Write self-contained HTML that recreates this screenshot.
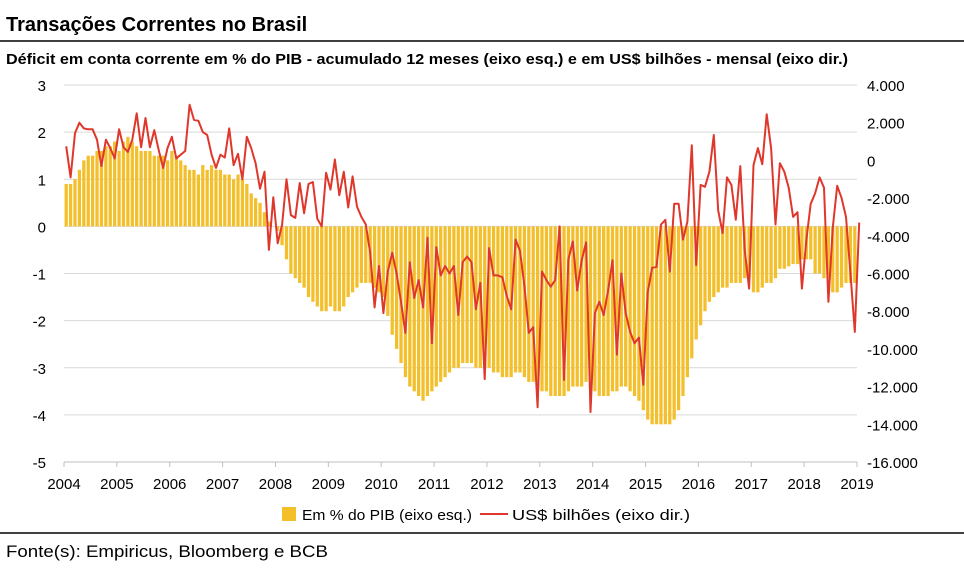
<!DOCTYPE html>
<html><head><meta charset="utf-8"><style>
body{margin:0;background:#fff;font-family:"Liberation Sans",sans-serif;}
#wrap{position:relative;width:964px;height:574px;overflow:hidden;}
</style></head><body>
<div id="wrap">
<svg id="svg" width="964" height="574">
<text x="6" y="31" font-size="20" font-weight="bold" fill="#000">Transações Correntes no Brasil</text>
<line x1="0" y1="41" x2="964" y2="41" stroke="#000" stroke-width="1.5"/>
<text x="6" y="64" font-size="14.5" font-weight="bold" fill="#000" textLength="842" lengthAdjust="spacingAndGlyphs">Déficit em conta corrente em % do PIB - acumulado 12 meses (eixo esq.) e em US$ bilhões - mensal (eixo dir.)</text>
<g id="grid"></g><g id="bars"></g><g id="axes"></g><g id="line"></g>
<rect x="282" y="507" width="14" height="14" fill="#F3BF2B"/>
<text x="302" y="520" font-size="15" fill="#000" textLength="170" lengthAdjust="spacingAndGlyphs">Em % do PIB (eixo esq.)</text>
<line x1="480" y1="514" x2="508" y2="514" stroke="#E0372C" stroke-width="2"/>
<text x="512" y="520" font-size="15" fill="#000" textLength="178" lengthAdjust="spacingAndGlyphs">US$ bilhões (eixo dir.)</text>
<line x1="0" y1="533" x2="964" y2="533" stroke="#000" stroke-width="1.5"/>
<text x="6" y="557" font-size="17" fill="#000" textLength="322" lengthAdjust="spacingAndGlyphs">Fonte(s): Empiricus, Bloomberg e BCB</text>
</svg></div>
<script>
const years=["2004","2005","2006","2007","2008","2009","2010","2011","2012","2013","2014","2015","2016","2017","2018","2019"];
const leftTicks=[3,2,1,0,-1,-2,-3,-4,-5];
const rightTicks=["4.000","2.000","0","-2.000","-4.000","-6.000","-8.000","-10.000","-12.000","-14.000","-16.000"];
const pib=[
0.9,0.9,1.0,1.2,1.4,1.5,1.5,1.6,1.6,1.7,1.7,1.8,
1.6,1.8,1.9,1.8,1.7,1.6,1.6,1.6,1.5,1.5,1.5,1.4,
1.6,1.5,1.4,1.3,1.2,1.2,1.1,1.3,1.2,1.3,1.2,1.2,
1.1,1.1,1.0,1.1,1.0,0.9,0.7,0.6,0.5,0.3,0.1,0.0,
-0.1,-0.4,-0.7,-1.0,-1.1,-1.2,-1.3,-1.5,-1.6,-1.7,-1.8,-1.8,
-1.7,-1.8,-1.8,-1.7,-1.5,-1.4,-1.3,-1.2,-1.2,-1.2,-1.3,-1.4,
-1.5,-1.9,-2.3,-2.6,-2.9,-3.2,-3.4,-3.5,-3.6,-3.7,-3.6,-3.5,
-3.4,-3.3,-3.2,-3.1,-3.0,-3.0,-2.9,-2.9,-2.9,-3.0,-3.0,-3.0,
-3.0,-3.1,-3.1,-3.2,-3.2,-3.2,-3.1,-3.1,-3.2,-3.3,-3.3,-3.4,
-3.5,-3.5,-3.6,-3.6,-3.6,-3.6,-3.5,-3.4,-3.4,-3.4,-3.3,-3.4,
-3.5,-3.6,-3.6,-3.6,-3.5,-3.5,-3.4,-3.4,-3.5,-3.6,-3.7,-3.9,
-4.1,-4.2,-4.2,-4.2,-4.2,-4.2,-4.1,-3.9,-3.6,-3.2,-2.8,-2.4,
-2.1,-1.8,-1.6,-1.5,-1.4,-1.3,-1.3,-1.2,-1.2,-1.2,-1.1,-1.1,
-1.4,-1.4,-1.3,-1.2,-1.2,-1.1,-0.9,-0.9,-0.85,-0.8,-0.8,-0.7,
-0.7,-0.7,-1.0,-1.0,-1.1,-1.1,-1.4,-1.4,-1.3,-1.2,-1.2,-1.2];
const usd=[
750,-900,1450,2000,1700,1650,1650,1100,-300,1100,650,100,
1650,700,450,1100,2500,700,2250,700,1600,550,-400,650,
1250,100,300,500,2950,2150,2100,1500,1350,300,-400,300,
150,1700,-250,350,-1000,1250,650,-150,-1500,-600,-4750,-1950,
-4400,-3400,-1000,-2900,-3050,-1200,-2800,-1250,-1150,-3100,-3500,-650,
-1550,50,-1850,-600,-2500,-850,-2450,-3000,-3400,-4900,-7800,-5600,
-8100,-5900,-4900,-6000,-7500,-9150,-5400,-7300,-6350,-7800,-4100,-9700,
-4600,-6100,-5600,-6000,-5600,-8200,-5400,-5100,-5400,-7900,-6500,-11600,
-4650,-6100,-6100,-6200,-7200,-7900,-4200,-4800,-6650,-9150,-8850,-13100,
-5900,-6350,-6700,-6350,-3500,-11650,-5250,-4300,-6900,-5300,-4350,-13350,
-8100,-7500,-8200,-6900,-5300,-10300,-6000,-8100,-9100,-9700,-9400,-11900,
-7000,-5700,-5650,-3400,-3150,-5900,-2300,-2300,-4200,-3250,800,-5550,
-1300,-1400,-600,1350,-2650,-3850,-900,-1300,-3150,-300,-4750,-6800,
-250,650,-200,2450,650,-3400,-150,-600,-1450,-3000,-2750,-6800,
-4250,-2300,-1750,-900,-1450,-7500,-3550,-1350,-2000,-3000,-5950,-9100,-3300];
const X0=64,X1=857,Y0=85,Y1=462;
const N=180;
function xMonth(i){return X0+(i+0.5)*(X1-X0)/N;}
function xYear(k){return X0+k*(X1-X0)/(years.length-1);}
function yL(v){return Y0+(3-v)*(Y1-Y0)/8;}
function yR(v){return Y0+(4000-v)*(Y1-Y0)/20000;}
const NS="http://www.w3.org/2000/svg";
function mk(t,a,p){const e=document.createElementNS(NS,t);for(const k in a)e.setAttribute(k,a[k]);p.appendChild(e);return e;}
const grid=document.getElementById('grid'),bars=document.getElementById('bars'),axes=document.getElementById('axes'),lineG=document.getElementById('line');
leftTicks.forEach(v=>{
 if(v!==-5){const g=mk('line',{x1:X0,x2:X1,y1:yL(v),y2:yL(v),stroke:'#d9d9d9','stroke-width':1},grid);
 
 }
 const t=mk('text',{x:46,y:yL(v)+6,'text-anchor':'end','font-size':15,fill:'#000'},axes);t.textContent=v;
 
 
});
rightTicks.forEach((s,k)=>{
 const v=4000-k*2000;
 const t=mk('text',{x:867,y:yR(v)+6,'font-size':15,fill:'#000'},axes);t.textContent=s;
 
 
});
const bw=(X1-X0)/N*0.74;
pib.forEach((v,i)=>{
 const y=Math.min(yL(v),yL(0)),h=Math.abs(yL(v)-yL(0));
 const r=mk('rect',{x:xMonth(i)-bw/2,y:y,width:bw,height:h,fill:'#F3BF2B'},bars);
 
 
});
const ax=mk('line',{x1:X0,x2:X1,y1:Y1,y2:Y1,stroke:'#bfbfbf','stroke-width':1},axes);


years.forEach((s,k)=>{
 const x=xYear(k);
 const tk=mk('line',{x1:x,x2:x,y1:Y1,y2:Y1+5,stroke:'#bfbfbf'},axes);
 
 
 const t=mk('text',{x:x,y:489,'text-anchor':'middle','font-size':15,fill:'#000'},axes);t.textContent=s;
 
 
});
const pts=usd.map((v,i)=>xMonth(i).toFixed(1)+','+yR(v).toFixed(1)).join(' ');
const pl=mk('polyline',{points:pts,fill:'none',stroke:'#E0372C','stroke-width':2,'stroke-linejoin':'round'},lineG);


</script>
</body></html>
